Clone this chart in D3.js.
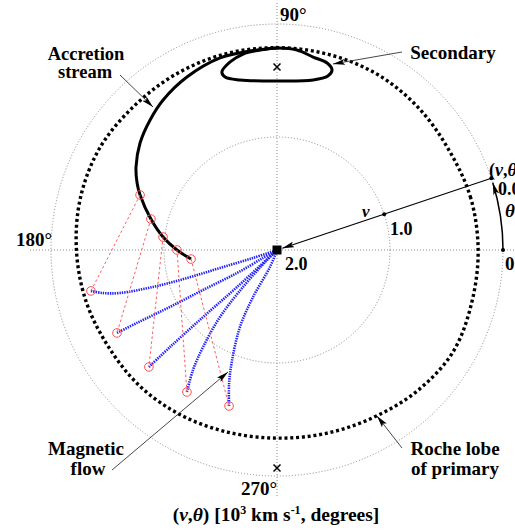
<!DOCTYPE html>
<html>
<head>
<meta charset="utf-8">
<script src="https://cdn.jsdelivr.net/npm/d3@7"></script>
<style>
  body { margin: 0; background: #fff; }
  text { font-family: "Liberation Serif", "Times New Roman", serif; font-weight: bold; fill: #000; }
</style>
</head>
<body>
<svg id="chart" width="515" height="530"></svg>
<script>
// ---------- data (v in 10^3 km/s, theta in degrees) ----------
const gridV = [1.0, 0.0];
const angleTicks = [0, 90, 180, 270];
const angleLabels = ["0", "90°", "180°", "270°"];

const rocheTheta = [0, 15, 30, 45, 60, 75, 90, 105, 120, 135, 150, 165, 180, 195, 210, 225, 240, 255, 270, 285, 300, 315, 330, 345];
const rocheV     = [0.22, 0.225, 0.24, 0.225, 0.21, 0.21, 0.21, 0.205, 0.205, 0.205, 0.19, 0.2, 0.225, 0.25, 0.28, 0.29, 0.31, 0.33, 0.335, 0.32, 0.29, 0.24, 0.2, 0.215];

const secTheta = [107.2, 104.0, 99.8, 94.9, 90, 84.3, 79.4, 75.0, 73.0, 73.7, 78.0, 90, 102.3, 106.7];
const secV     = [0.351, 0.285, 0.240, 0.224, 0.212, 0.221, 0.263, 0.287, 0.334, 0.396, 0.462, 0.504, 0.460, 0.402];

const streamTheta = [90, 97.7, 106.5, 117.5, 127.2, 134.3, 142.0, 149.5, 154.4, 158.1, 166.2, 173.5, 180, 186];
const streamV     = [0.212, 0.223, 0.227, 0.274, 0.333, 0.392, 0.462, 0.552, 0.627, 0.694, 0.851, 0.985, 1.115, 1.235];

const launchTheta = [158.1, 166.2, 173.5, 180, 186];
const launchV     = [0.694, 0.851, 0.985, 1.115, 1.235];

const flowTheta = [
  [192.4, 193.9, 195.3, 196.6, 197.3, 197.5, 198.4, 198],
  [207.4, 207.5, 208.0, 208.4, 209.9, 209.7, 210],
  [222.4, 222.2, 222.2, 222.8, 223],
  [237.6, 235.0, 232.7, 229.6, 227.4, 225, 225],
  [252.9, 250.2, 247.8, 244.3, 243.0, 247.6, 247]
];
const flowV = [
  [0.314, 0.414, 0.559, 0.855, 1.166, 1.471, 1.776, 2],
  [0.405, 0.603, 0.927, 1.256, 1.592, 1.857, 2],
  [0.465, 0.722, 1.117, 1.518, 2],
  [0.512, 0.704, 0.920, 1.221, 1.556, 1.875, 2],
  [0.556, 0.749, 0.949, 1.244, 1.533, 1.837, 2]
];

const crossTheta = [90, 270];
const crossV = [0.381, 0.071];

const exampleTheta = 18.5;   // (v,theta) example point
const exampleV = [0.0, 1.0];

// ---------- setup ----------
const svg = d3.select("#chart");
svg.append("rect").attr("width", 515).attr("height", 530).attr("fill", "#fff");
const cx = 277, cy = 250;
const r = d3.scaleLinear().domain([0, 2]).range([226, 0]);
const rad = d => d * Math.PI / 180;
const px = (v, t) => cx + r(v) * Math.cos(rad(t));
const py = (v, t) => cy - r(v) * Math.sin(rad(t));
const g = svg.append("g").attr("transform", `translate(${cx},${cy})`);
const radial = d3.lineRadial().angle(d => rad(90 - d[1])).radius(d => r(d[0]));

const defs = svg.append("defs");
defs.append("marker").attr("id", "ah").attr("viewBox", "0 0 12 6")
  .attr("refX", 12).attr("refY", 3).attr("markerWidth", 12).attr("markerHeight", 6)
  .attr("markerUnits", "userSpaceOnUse").attr("orient", "auto")
  .append("path").attr("d", "M0,0 L12,3 L0,6 L2.5,3 Z").attr("fill", "#000");

// ---------- grid ----------
g.selectAll("circle.grid").data(gridV).join("circle")
  .attr("r", d => r(d)).attr("fill", "none")
  .attr("stroke", "#888").attr("stroke-width", 1).attr("stroke-dasharray", "1,2");
const gridExt = 247;
g.append("line").attr("x1", -gridExt).attr("x2", gridExt).attr("y1", 0).attr("y2", 0)
  .attr("stroke", "#888").attr("stroke-dasharray", "1,2");
g.append("line").attr("y1", -gridExt).attr("y2", gridExt).attr("x1", 0).attr("x2", 0)
  .attr("stroke", "#888").attr("stroke-dasharray", "1,2");

// ---------- Roche lobe of primary ----------
g.append("path")
  .datum(rocheTheta.map((t, i) => [rocheV[i], t]))
  .attr("d", radial.curve(d3.curveCatmullRomClosed))
  .attr("fill", "none").attr("stroke", "#000").attr("stroke-width", 3.4)
  .attr("stroke-dasharray", "3,2.8");

// ---------- secondary ----------
g.append("path")
  .datum(secTheta.map((t, i) => [secV[i], t]))
  .attr("d", radial.curve(d3.curveCatmullRomClosed))
  .attr("fill", "none").attr("stroke", "#000").attr("stroke-width", 3);

// ---------- red dashed links ----------
launchTheta.forEach((t, i) => {
  const ft = flowTheta[i][0], fv = flowV[i][0];
  svg.append("line")
    .attr("x1", px(launchV[i], t)).attr("y1", py(launchV[i], t))
    .attr("x2", px(fv, ft)).attr("y2", py(fv, ft))
    .attr("stroke", "#ff5a5a").attr("stroke-width", 1).attr("stroke-dasharray", "2.5,2.5");
});

// ---------- magnetic flow ----------
flowTheta.forEach((ts, i) => {
  g.append("path")
    .datum(ts.map((t, j) => [flowV[i][j], t]))
    .attr("d", radial.curve(d3.curveCatmullRom))
    .attr("fill", "none").attr("stroke", "#2020ff").attr("stroke-width", 2.6)
    .attr("stroke-dasharray", "1.4,1");
});

// ---------- accretion stream ----------
g.append("path")
  .datum(streamTheta.map((t, i) => [streamV[i], t]))
  .attr("d", radial.curve(d3.curveCatmullRom))
  .attr("fill", "none").attr("stroke", "#000").attr("stroke-width", 3);

// red circles
const circ = [];
launchTheta.forEach((t, i) => circ.push([launchV[i], t]));
flowTheta.forEach((ts, i) => circ.push([flowV[i][0], ts[0]]));
svg.selectAll("circle.red").data(circ).join("circle")
  .attr("cx", d => px(d[0], d[1])).attr("cy", d => py(d[0], d[1])).attr("r", 4.3)
  .attr("fill", "none").attr("stroke", "#ff4d4d").attr("stroke-width", 1);

// crosses
crossTheta.forEach((t, i) => {
  const x = px(crossV[i], t), y = py(crossV[i], t), s = 3.5;
  svg.append("path").attr("d", `M${x - s},${y - s}L${x + s},${y + s}M${x - s},${y + s}L${x + s},${y - s}`)
    .attr("stroke", "#000").attr("stroke-width", 1.5);
});

// centre square
svg.append("rect").attr("x", cx - 4.5).attr("y", cy - 4.5).attr("width", 9).attr("height", 9).attr("fill", "#000");

// ---------- (v,theta) example ----------
const ex0 = [px(exampleV[0], exampleTheta), py(exampleV[0], exampleTheta)];
svg.append("line").attr("x1", ex0[0]).attr("y1", ex0[1])
  .attr("x2", px(1.95, exampleTheta)).attr("y2", py(1.95, exampleTheta))
  .attr("stroke", "#000").attr("stroke-width", 1.2).attr("marker-end", "url(#ah)");
const a0 = [px(0, 0), py(0, 0)], a1 = [px(0, exampleTheta - 1.2), py(0, exampleTheta - 1.2)];
svg.append("path").attr("d", `M${a0[0]},${a0[1]} A${r(0)},${r(0)} 0 0 0 ${a1[0]},${a1[1]}`)
  .attr("fill", "none").attr("stroke", "#000").attr("stroke-width", 1.5).attr("marker-end", "url(#ah)");
[[0, exampleTheta], [1, exampleTheta], [0, 0]].forEach(d => {
  svg.append("circle").attr("cx", px(d[0], d[1])).attr("cy", py(d[0], d[1])).attr("r", 2).attr("fill", "#000");
});

// ---------- labels ----------
const T = (x, y, s, size, anchor) => svg.append("text").attr("x", x).attr("y", y)
  .attr("font-size", size).attr("text-anchor", anchor || "start").text(s);
T(280, 21, angleLabels[1], 19);
T(52, 246, angleLabels[2], 19, "end");
T(277, 495, angleLabels[3], 19, "end");
T(505, 270, angleLabels[0], 19);
T(285, 270, "2.0", 18);
T(390, 235, "1.0", 18);
T(498, 195, "0.0", 18);
svg.append("text").attr("x", 362).attr("y", 217).attr("font-size", 17).attr("font-style", "italic").text("v");
svg.append("text").attr("x", 505).attr("y", 217).attr("font-size", 19).attr("font-style", "italic").text("θ");
const lab = svg.append("text").attr("x", 489).attr("y", 176).attr("font-size", 18);
lab.append("tspan").text("(");
lab.append("tspan").attr("font-style", "italic").text("v");
lab.append("tspan").text(",");
lab.append("tspan").attr("font-style", "italic").text("θ");
lab.append("tspan").text(")");

T(86, 59.5, "Accretion", 18.5, "middle");
T(85, 78, "stream", 18.5, "middle");
T(453, 59, "Secondary", 19, "middle");
T(86, 455, "Magnetic", 19, "middle");
T(88, 475, "flow", 19, "middle");
T(455, 455, "Roche lobe", 19, "middle");
T(455, 475, "of primary", 19, "middle");

// annotation arrows
const arrows = [[120, 75, 153, 107], [402, 52, 333, 64], [112, 470, 228, 372], [402, 448, 377, 416]];
arrows.forEach(a => svg.append("line").attr("x1", a[0]).attr("y1", a[1]).attr("x2", a[2]).attr("y2", a[3])
  .attr("stroke", "#333").attr("stroke-width", 0.9).attr("marker-end", "url(#ah)"));

// title
const tt = svg.append("text").attr("x", 276).attr("y", 521).attr("font-size", 19.5).attr("text-anchor", "middle");
tt.append("tspan").text("(");
tt.append("tspan").attr("font-style", "italic").text("v");
tt.append("tspan").text(",");
tt.append("tspan").attr("font-style", "italic").text("θ");
tt.append("tspan").text(") [10");
tt.append("tspan").attr("font-size", 12).attr("dy", -7).text("3");
tt.append("tspan").attr("dy", 7).text(" km s");
tt.append("tspan").attr("font-size", 12).attr("dy", -7).text("-1");
tt.append("tspan").attr("dy", 7).text(", degrees]");
</script>
</body>
</html>
